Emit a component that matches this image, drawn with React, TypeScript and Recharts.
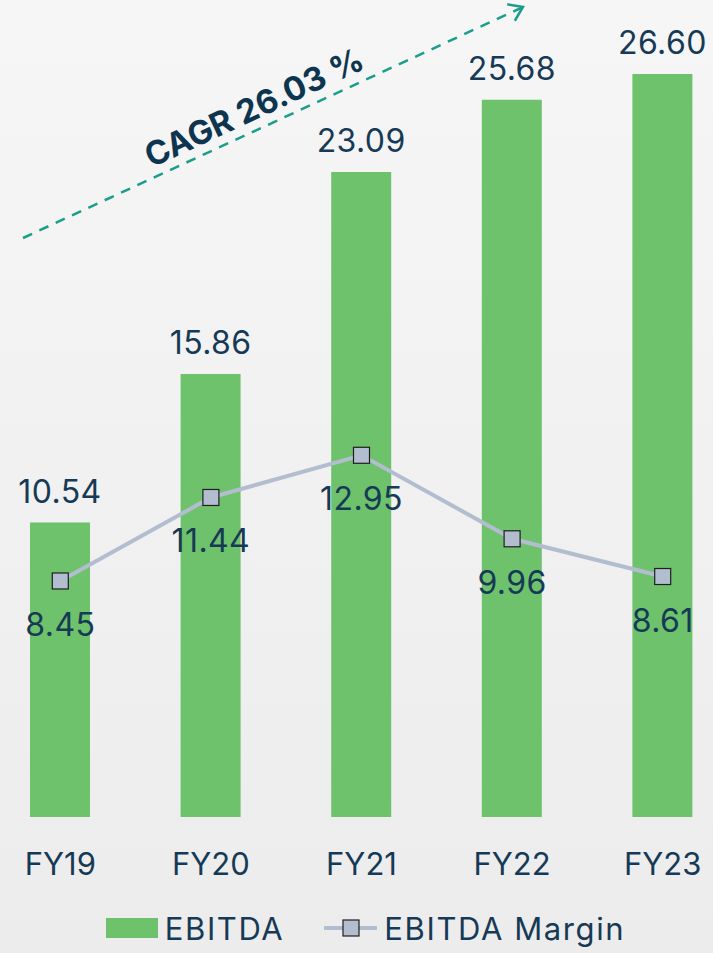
import React from 'react';
import { Bar, ComposedChart, LabelList, Legend, Line, XAxis, YAxis } from 'recharts';

const categories = ['FY19', 'FY20', 'FY21', 'FY22', 'FY23'];
const ebitda = [10.54, 15.86, 23.09, 25.68, 26.6];
const ebitdaMargin = [8.45, 11.44, 12.95, 9.96, 8.61];

const data = categories.map((year, i) => ({ year, ebitda: ebitda[i], margin: ebitdaMargin[i] }));

const NAVY = '#163a56';
const GREEN = '#6dc26b';
const GREY = '#b2bdcf';
const TEAL = '#1a9e8a';
const FONT = 'Inter, "Noto Sans", sans-serif';

const BarLabel = (p: any) => (
  <text x={p.x + p.width / 2} y={p.y - 20} textAnchor="middle" fill={NAVY} fontSize={32} letterSpacing={0.4} fontFamily={FONT}>
    {p.value.toFixed(2)}
  </text>
);

const LineLabel = (p: any) => (
  <text x={p.x} y={p.y + 55} textAnchor="middle" fill={NAVY} fontSize={32} letterSpacing={0.4} fontFamily={FONT}>
    {p.value.toFixed(2)}
  </text>
);

const SquareDot = (p: any) => (
  <rect key={p.index} x={p.cx - 8} y={p.cy - 8} width={16} height={16} fill={GREY} stroke="#1f1f1f" strokeWidth={1.2} />
);

const YearTick = (p: any) => (
  <text x={p.x} y={875} textAnchor="middle" fill={NAVY} fontSize={31} fontFamily={FONT}>
    {p.payload.value}
  </text>
);

const LegendContent = () => (
  <div
    style={{
      display: 'flex',
      justifyContent: 'center',
      alignItems: 'center',
      gap: 40,
      height: 66,
      paddingTop: 16,
      boxSizing: 'border-box',
      fontFamily: FONT,
      fontSize: 31,
      color: NAVY,
      letterSpacing: 1.6,
      paddingLeft: 8,
    }}
  >
    <span style={{ display: 'flex', alignItems: 'center', gap: 7 }}>
      <span style={{ width: 52, height: 20, background: GREEN, display: 'inline-block' }} />
      EBITDA
    </span>
    <span style={{ display: 'flex', alignItems: 'center', gap: 7 }}>
      <svg width={53} height={20}>
        <line x1={0} y1={10} x2={53} y2={10} stroke={GREY} strokeWidth={4} />
        <rect x={19} y={2} width={16} height={16} fill={GREY} stroke="#1f1f1f" strokeWidth={1.2} />
      </svg>
      EBITDA Margin
    </span>
  </div>
);

// dashed CAGR arrow
const ax1 = 23, ay1 = 238, ax2 = 523, ay2 = 7;
const ang = Math.atan2(ay2 - ay1, ax2 - ax1);
const head = (d: number) => [ax2 - 16 * Math.cos(ang + d), ay2 - 16 * Math.sin(ang + d)];

export default function App() {
  const [h1x, h1y] = head(0.6);
  const [h2x, h2y] = head(-0.6);
  return (
    <div
      style={{
        position: 'absolute',
        left: 0,
        top: 0,
        width: 713,
        height: 953,
        overflow: 'hidden',
        background: 'linear-gradient(#f6f6f6, #ececec)',
      }}
    >
      <div style={{ position: 'absolute', left: -15, top: 0 }}>
        <ComposedChart width={753} height={953} data={data} margin={{ top: 7, right: 0, bottom: 0, left: 0 }}>
          <XAxis dataKey="year" axisLine={false} tickLine={false} height={70} tick={<YearTick />} interval={0} />
          <YAxis hide domain={[0, 29]} />
          <Legend verticalAlign="bottom" content={<LegendContent />} />
          <Bar dataKey="ebitda" name="EBITDA" fill={GREEN} barSize={60} isAnimationActive={false}>
            <LabelList dataKey="ebitda" content={<BarLabel />} />
          </Bar>
          <Line
            dataKey="margin"
            name="EBITDA Margin"
            stroke={GREY}
            strokeWidth={4}
            dot={<SquareDot />}
            activeDot={false}
            isAnimationActive={false}
          >
            <LabelList dataKey="margin" content={<LineLabel />} />
          </Line>
        </ComposedChart>
      </div>
      <svg width={713} height={953} style={{ position: 'absolute', left: 0, top: 0, pointerEvents: 'none' }}>
        <line x1={ax1} y1={ay1} x2={ax2} y2={ay2} stroke={TEAL} strokeWidth={2.5} strokeDasharray="10 8" />
        <polyline points={`${h1x},${h1y} ${ax2},${ay2} ${h2x},${h2y}`} fill="none" stroke={TEAL} strokeWidth={2.5} />
        <text
          x={259}
          y={118}
          textAnchor="middle"
          fill="#0e3550"
          fontSize={33}
          fontWeight={700}
          fontFamily={FONT}
          transform={`rotate(-25 259 118)`}
        >
          CAGR 26.03 %
        </text>
      </svg>
    </div>
  );
}
